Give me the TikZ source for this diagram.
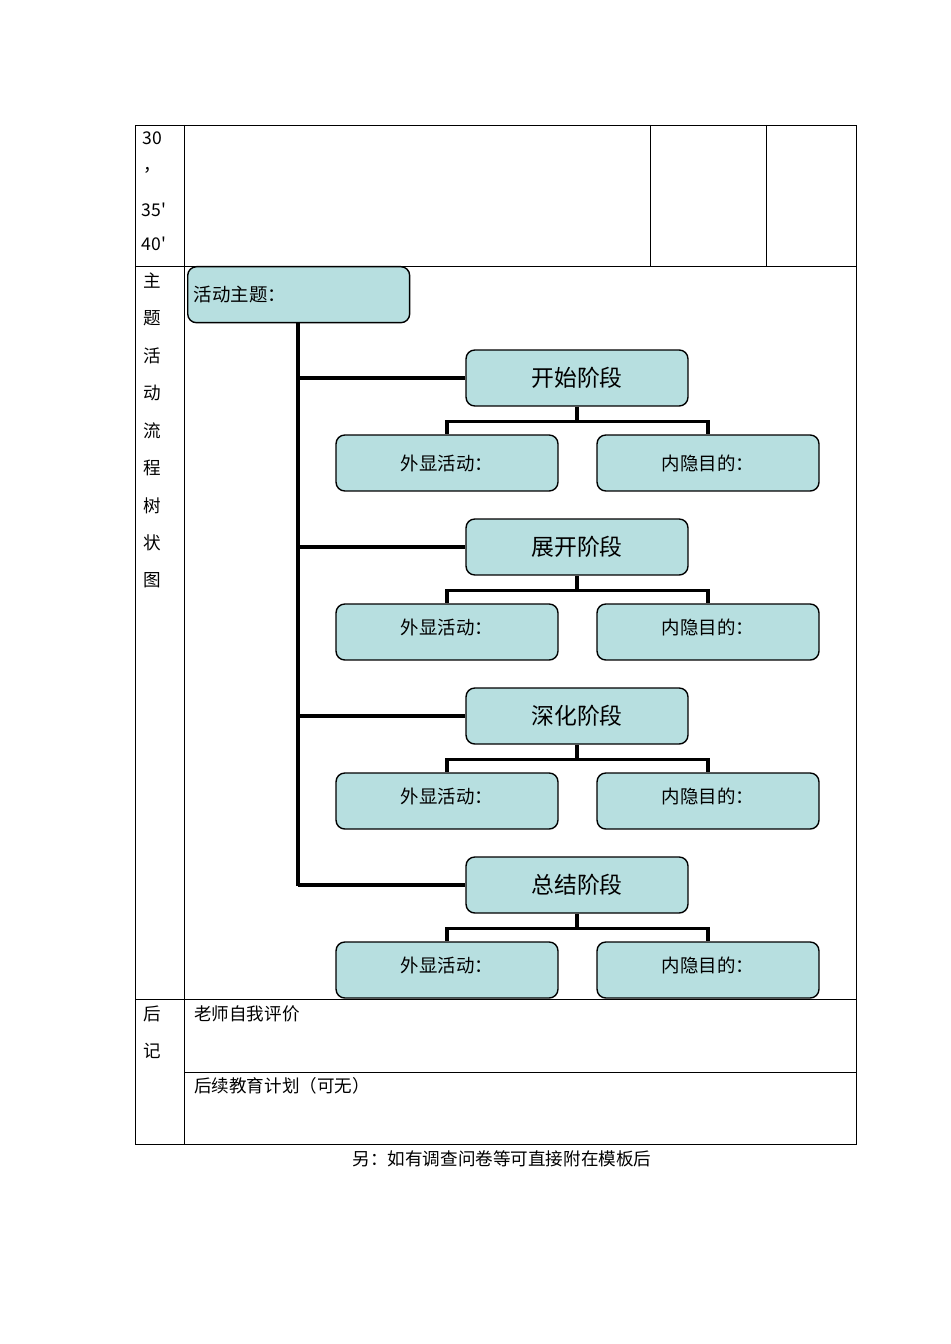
\documentclass[tikz,border=0pt]{standalone}
\usepackage{fontspec}
\setmainfont{Liberation Serif}
\newfontfamily\cjk{Noto Sans CJK SC}
\usetikzlibrary{positioning}
\definecolor{boxfill}{HTML}{B7DFE0}
\begin{document}
\begin{tikzpicture}[x=0.02cm,y=-0.02cm,
cell/.style={font=\cjk\fontsize{10}{12}\selectfont},
stagenode/.style={rectangle, rounded corners=5pt, draw=black, fill=boxfill, thick, minimum width=4.44cm, minimum height=1.12cm, font=\cjk\fontsize{13}{15}\selectfont},
leafnode/.style={rectangle, rounded corners=5pt, draw=black, fill=boxfill, thick, minimum width=4.44cm, minimum height=1.12cm, font=\cjk\fontsize{10.5}{12}\selectfont},
tree/.style={line width=2pt}
]
\useasboundingbox (0,0) rectangle (950,1344);
%Table
\draw (135,125) rectangle (856,1144);
\draw (184,125) -- (184,1144);
\draw (135,266) -- (856,266);
\draw (135,999) -- (856,999);
\draw (184,1072) -- (856,1072);
\draw (650,125) -- (650,266);
\draw (766,125) -- (766,266);
%Left column
\node[cell] (t30) at (152,138) {30};
\node[cell] (tc) at (152,170) {，};
\node[cell] (t35) at (154,210) {35'};
\node[cell] (t40) at (154,244) {40'};
\foreach \ch [count=\i] in {主,题,活,动,流,程,树,状,图}
  \node[cell] (side\i) at (152,243+37.5*\i) {\ch};
\node[cell] (hou) at (152,1014) {后};
\node[cell] (ji) at (152,1051) {记};
\node[cell, anchor=west] (selfeval) at (188,1014) {老师自我评价};
\node[cell, anchor=west] (followup) at (188,1086) {后续教育计划（可无）};
\node[cell] (note) at (502,1159) {另：如有调查问卷等可直接附在模板后};
%Nodes
\node[leafnode, anchor=north west, text width=4.2cm, align=left] (theme) at (187,266) {活动主题：};
\coordinate (trunk) at (298,322);
\foreach \name/\up [count=\i] in {开始阶段/0,展开阶段/0.2,深化阶段/0.2,总结阶段/0.2}{
  \node[stagenode] (stage\i) at (577,209+169*\i) {\name};
  \node[leafnode] (show\i) at (447,294+169*\i) {\raisebox{\up cm}{外显活动：}};
  \node[leafnode] (aim\i) at (708,294+169*\i) {\raisebox{\up cm}{内隐目的：}};
  %Lines
  \draw[tree] (298,209+169*\i) -- (stage\i.west);
  \draw[tree] (stage\i.south) -- ++(0,15) -| (show\i.north);
  \draw[tree] (stage\i.south) ++(0,15) -| (aim\i.north);
}
\draw[tree] (trunk) -- (298,886);
\end{tikzpicture}
\end{document}
